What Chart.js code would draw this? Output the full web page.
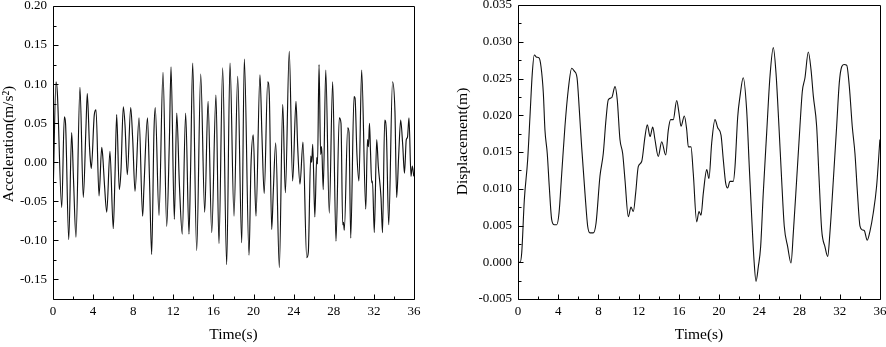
<!DOCTYPE html>
<html><head><meta charset="utf-8">
<script src="https://cdn.jsdelivr.net/npm/chart.js@4.4.0/dist/chart.umd.min.js"></script>
<style>
html,body{margin:0;padding:0;background:#fff;}
#wrap{position:relative;width:886px;height:347px;overflow:hidden;background:#fff;}
canvas{position:absolute;top:0;}
#c1{left:0;} #c2{left:443px;}
</style></head><body>
<div id="wrap"><canvas id="c1" width="443" height="347"></canvas><canvas id="c2" width="443" height="347"></canvas></div>
<script>
// ---- data ----
const timeTicks = [0,4,8,12,16,20,24,28,32,36];

const accTicks = [-0.15,-0.10,-0.05,0.00,0.05,0.10,0.15,0.20];
const accTime = [
0.03,0.30,0.43,0.87,1.13,1.25,1.57,1.86,2.04,2.29,
2.69,3.02,3.29,3.42,3.64,3.74,3.82,4.12,4.29,4.59,
4.86,4.96,5.14,5.36,5.68,6.01,6.18,6.35,6.61,6.78,
7.01,7.18,7.41,7.75,7.95,8.18,8.58,8.94,9.07,9.42,
9.62,9.84,10.07,10.20,10.57,10.97,11.34,11.60,11.77,12.10,
12.34,12.61,12.89,13.23,13.56,13.71,13.93,14.33,14.73,15.13,
15.46,15.83,16.25,16.55,16.92,17.32,17.65,18.05,18.42,18.82,
19.08,19.55,19.74,19.97,20.24,20.64,20.84,21.06,21.41,21.57,
21.81,21.97,22.21,22.57,22.91,23.17,23.56,23.90,24.23,24.40,
24.63,24.93,25.30,25.46,25.70,25.80,25.90,26.11,26.30,26.38,
26.53,26.69,26.79,26.95,27.20,27.55,27.89,28.22,28.55,28.72,
28.89,28.97,29.05,29.39,29.52,29.69,30.02,30.12,30.31,30.51,
30.78,31.19,31.36,31.46,31.56,31.66,31.78,31.86,32.04,32.28,
32.44,32.71,32.86,33.08,33.24,33.48,33.86,34.10,34.27,34.47,
34.67,34.87,35.05,35.23,35.35,35.50,35.70,35.83,35.98];
const accValues = [
-0.030,0.103,0.090,-0.058,0.058,0.050,-0.099,0.038,-0.020,-0.096,
0.096,-0.045,0.046,0.088,0.020,0.000,-0.008,0.061,0.067,-0.043,
0.019,0.008,-0.030,-0.064,0.014,-0.085,-0.018,0.061,-0.035,-0.010,
0.071,0.048,-0.016,0.070,0.029,-0.037,0.057,-0.069,-0.032,0.057,
-0.020,-0.118,0.040,0.070,-0.068,0.115,-0.082,0.025,0.122,-0.073,
0.063,-0.030,-0.092,0.063,-0.092,-0.016,0.127,-0.113,0.113,-0.064,
0.078,-0.090,0.086,-0.104,0.121,-0.131,0.127,-0.069,0.110,-0.103,
0.132,-0.119,-0.005,0.035,-0.069,0.112,0.033,-0.040,0.103,0.086,
-0.086,-0.037,0.025,-0.135,0.074,-0.039,0.142,-0.024,0.078,0.020,
-0.028,0.026,-0.122,-0.115,0.008,0.000,0.023,-0.070,0.006,-0.002,
0.125,0.010,0.020,-0.035,0.118,-0.065,0.103,-0.101,0.057,0.050,
-0.080,-0.077,-0.087,0.044,0.038,-0.097,0.084,0.082,0.010,-0.024,
0.118,-0.060,0.029,0.020,0.050,0.015,-0.026,-0.024,-0.090,0.029,
-0.005,-0.045,-0.090,0.054,0.040,-0.080,0.103,0.065,-0.045,0.008,
0.054,0.023,-0.014,0.029,0.032,0.057,-0.018,-0.005,-0.018];

const dispTicks = [-0.005,0.000,0.005,0.010,0.015,0.020,0.025,0.030,0.035];
const dispTime = [
0,0.20,0.37,0.63,0.96,1.19,1.42,1.62,1.86,2.09,
2.29,2.52,2.68,2.91,3.11,3.35,3.61,3.85,4.08,4.35,
4.67,5.00,5.34,5.60,5.87,6.10,6.33,6.66,6.93,7.16,
7.49,7.76,8.15,8.48,8.75,8.98,9.32,9.65,9.87,10.14,
10.41,10.64,10.97,11.24,11.47,11.70,11.96,12.30,12.63,12.86,
13.13,13.40,13.62,13.95,14.29,14.69,14.95,15.18,15.44,15.78,
16.01,16.21,16.54,16.78,16.94,17.20,17.43,17.77,18.00,18.20,
18.43,18.77,18.99,19.26,19.59,19.86,20.19,20.42,20.65,20.85,
21.08,21.41,21.58,21.85,22.08,22.40,22.74,23.00,23.24,23.47,
23.67,23.90,24.13,24.39,24.73,25.06,25.39,25.66,25.95,26.22,
26.48,26.82,27.15,27.38,27.71,28.04,28.27,28.54,28.87,29.14,
29.37,29.70,29.93,30.20,30.53,30.80,31.02,31.36,31.69,31.95,
32.19,32.42,32.69,32.95,33.24,33.51,33.74,34.01,34.24,34.44,
34.73,35.00,35.33,35.66,35.99];
const dispValues = [
0.0000,0.0000,0.0013,0.0085,0.0139,0.0198,0.0257,0.0282,0.0279,0.0278,
0.0266,0.0230,0.0180,0.0148,0.0103,0.0058,0.0051,0.0051,0.0067,0.0121,
0.0185,0.0235,0.0264,0.0260,0.0251,0.0207,0.0157,0.0094,0.0049,0.0040,
0.0040,0.0053,0.0117,0.0148,0.0194,0.0221,0.0224,0.0239,0.0221,0.0167,
0.0148,0.0112,0.0062,0.0075,0.0069,0.0094,0.0130,0.0137,0.0171,0.0187,
0.0171,0.0184,0.0167,0.0144,0.0164,0.0146,0.0180,0.0194,0.0194,0.0220,
0.0203,0.0185,0.0199,0.0180,0.0157,0.0157,0.0121,0.0055,0.0069,0.0064,
0.0094,0.0126,0.0114,0.0162,0.0194,0.0183,0.0173,0.0139,0.0108,0.0101,
0.0110,0.0110,0.0130,0.0198,0.0226,0.0251,0.0207,0.0130,0.0062,0.0003,
-0.0026,-0.0006,0.0021,0.0094,0.0176,0.0253,0.0292,0.0257,0.0185,0.0112,
0.0049,0.0021,-0.0001,0.0040,0.0112,0.0185,0.0232,0.0251,0.0286,0.0262,
0.0226,0.0185,0.0117,0.0044,0.0021,0.0008,0.0040,0.0112,0.0185,0.0244,
0.0266,0.0269,0.0268,0.0239,0.0185,0.0148,0.0098,0.0049,0.0044,0.0043,
0.0030,0.0042,0.0067,0.0103,0.0167];

// ---- drawing ----
const FONT = '"Liberation Serif", "Times New Roman", serif';
const mids = arr => arr.slice(1).map((v, i) => (v + arr[i]) / 2);

const axisDeco = {
  id: 'axisDeco',
  afterDraw(chart, args, o) {
    const {ctx, chartArea: a} = chart;
    const xs = chart.scales.x, ys = chart.scales.y;
    const L = Math.round(a.left) + 0.5, R = Math.round(a.right) + 0.5;
    const T = Math.round(a.top) + 0.5, B = Math.round(a.bottom) + 0.5;
    ctx.save();
    ctx.strokeStyle = '#000';
    ctx.lineWidth = 1;
    ctx.beginPath();
    ctx.rect(L, T, R - L, B - T);
    const xt = (vals, len) => vals.forEach(v => {
      const p = Math.round(xs.getPixelForValue(v)) + 0.5;
      ctx.moveTo(p, B); ctx.lineTo(p, B - len);
    });
    const yt = (vals, len) => vals.forEach(v => {
      const p = Math.round(ys.getPixelForValue(v)) + 0.5;
      ctx.moveTo(L, p); ctx.lineTo(L + len, p);
    });
    xt(timeTicks, 5); xt(mids(timeTicks), 3);
    yt(o.yTicks, 5); yt(mids(o.yTicks), 3);
    ctx.stroke();
    ctx.fillStyle = '#000';
    ctx.font = '15.5px ' + FONT;
    ctx.textAlign = 'center';
    ctx.textBaseline = 'alphabetic';
    ctx.fillText(o.xTitle, (a.left + a.right) / 2, o.xTitleY);
    ctx.translate(o.yTitleX, o.yTitleY);
    ctx.rotate(-Math.PI / 2);
    ctx.fillText(o.yTitle, 0, 0);
    ctx.restore();
  }
};

function makeChart(id, time, values, yMin, yMax, yTicks, dec, yWidth, pad, lw, deco) {
  return new Chart(document.getElementById(id), {
    type: 'line',
    data: {
      datasets: [{
        data: time.map((t, i) => ({x: t, y: values[i]})),
        borderColor: '#111', borderWidth: lw, pointRadius: 0,
        cubicInterpolationMode: 'monotone', fill: false
      }]
    },
    options: {
      responsive: false, animation: false, devicePixelRatio: 1, events: [],
      layout: {padding: pad},
      plugins: {legend: {display: false}, tooltip: {enabled: false}, axisDeco: Object.assign({yTicks}, deco)},
      scales: {
        x: {
          type: 'linear', min: 0, max: 36,
          grid: {display: false, drawTicks: false}, border: {display: false},
          afterBuildTicks: s => { s.ticks = timeTicks.map(v => ({value: v})); },
          afterFit: s => { s.height = 48; s.paddingLeft = 0; s.paddingRight = 0; },
          ticks: {font: {family: FONT, size: 13}, color: '#000', padding: 5, maxRotation: 0, autoSkip: false,
                  callback: v => String(v)}
        },
        y: {
          type: 'linear', min: yMin, max: yMax,
          grid: {display: false, drawTicks: false}, border: {display: false},
          afterBuildTicks: s => { s.ticks = yTicks.map(v => ({value: v})); },
          afterFit: s => { s.width = yWidth; s.paddingTop = 0; s.paddingBottom = 0; },
          ticks: {font: {family: FONT, size: 13}, color: '#000', padding: 6, autoSkip: false,
                  callback: v => Number(v).toFixed(dec)}
        }
      }
    },
    plugins: [axisDeco]
  });
}

makeChart('c1', accTime, accValues, -0.175, 0.20, accTicks, 2, 53,
  {left: 0, right: 29, top: 6, bottom: 0}, 1.15,
  {xTitle: 'Time(s)', xTitleY: 338.5, yTitle: 'Acceleration(m/s\u00B2)', yTitleX: 12.5, yTitleY: 144});
makeChart('c2', dispTime, dispValues, -0.005, 0.035, dispTicks, 3, 75,
  {left: 0, right: 6, top: 5, bottom: 0}, 1.1,
  {xTitle: 'Time(s)', xTitleY: 338.5, yTitle: 'Displacement(m)', yTitleX: 24, yTitleY: 141.5});
</script>
</body></html>
